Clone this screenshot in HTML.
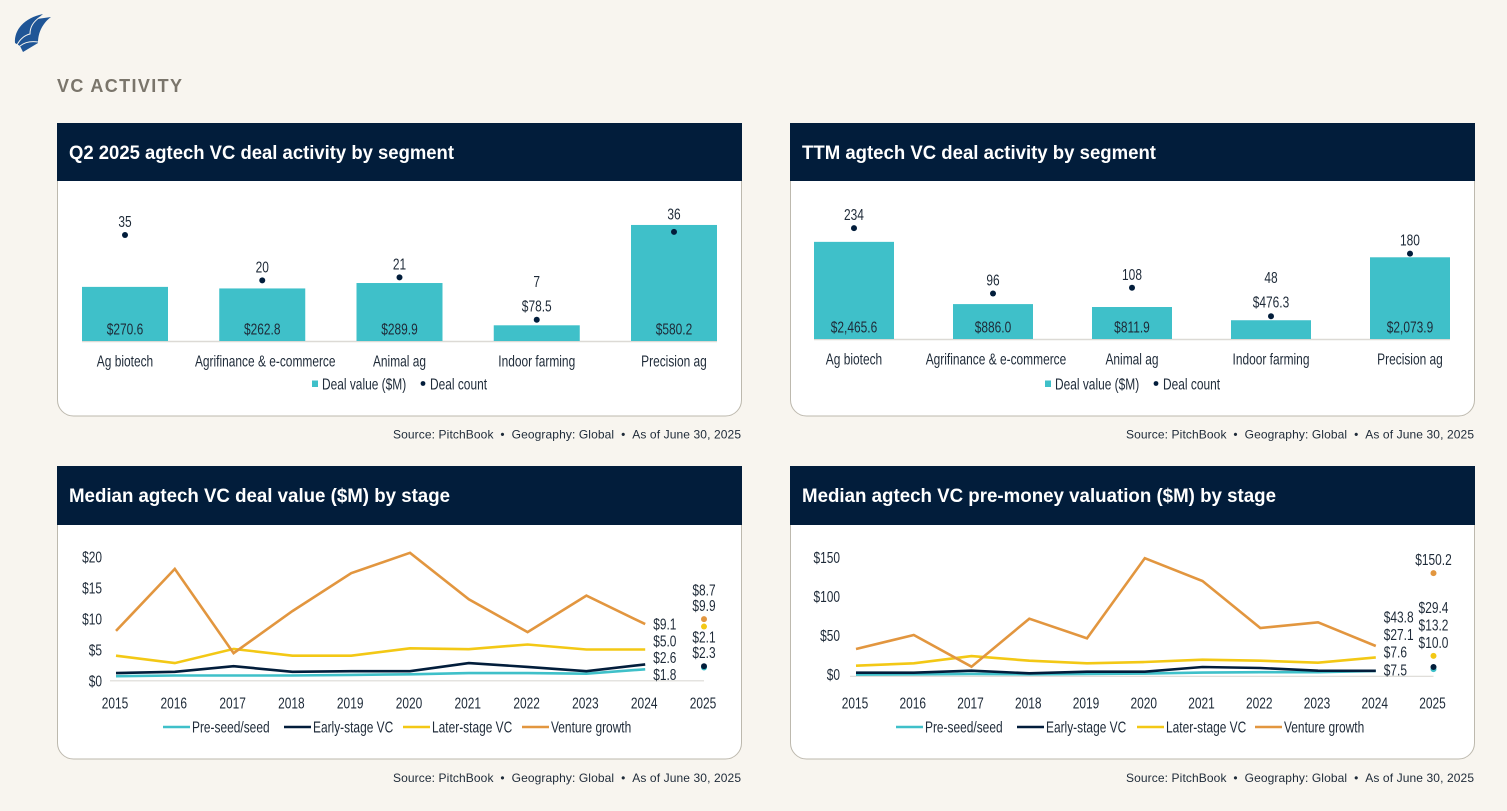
<!DOCTYPE html>
<html lang="en">
<head>
<meta charset="utf-8">
<title>VC Activity</title>
<style>
html,body{margin:0;padding:0;background:#f8f5ef;width:1507px;height:811px;overflow:hidden}
svg{display:block}
text{font-family:"Liberation Sans",sans-serif;font-size:15.5px;fill:#1e2a38}
.title{font-family:"Liberation Sans",sans-serif;font-weight:700;font-size:19px;fill:#fff}
.source{font-family:"Liberation Sans",sans-serif;font-size:12px;fill:#1e2a38}
.section{font-family:"Liberation Sans",sans-serif;font-weight:700;font-size:18px;fill:#7a756b}
</style>
</head>
<body>
<svg id="page" width="1507" height="811" viewBox="0 0 1507 811" xmlns="http://www.w3.org/2000/svg">
  <rect x="0" y="0" width="1507" height="811" fill="#f8f5ef"/>
  <g>
    <path fill="#1f5596" d="M15 43C14 30 24 18 43 14L37 19L51 17C43 23 38 32 38 43L23 52L20 46Z"/>
    <path fill="none" stroke="#f8f5ef" stroke-width="1" d="M40 17C33 22 30 27 30 34C25 35 20 39 17 45"/>
    <path fill="none" stroke="#f8f5ef" stroke-width="1" d="M20 46C25 42 31 41 38 42"/>
  </g>
  <text class="section" x="57" y="92" textLength="125" lengthAdjust="spacing">VC ACTIVITY</text>

  <g>
    <path d="M57.5 123.5H741.5V400a16 16 0 0 1-16 16H73.5a16 16 0 0 1-16-16Z" fill="#fff" stroke="#bdb9ae"/>
    <rect x="57" y="123" width="685" height="58" fill="#021d3b"/>
    <text class="title" x="69" y="159" textLength="385" lengthAdjust="spacingAndGlyphs">Q2 2025 agtech VC deal activity by segment</text>
    <text class="source" x="393" y="438.5" textLength="348" lengthAdjust="spacing">Source: PitchBook&#160;&#160;•&#160;&#160;Geography: Global&#160;&#160;•&#160;&#160;As of June 30, 2025</text>
  </g>
  <g>
    <path d="M790.5 123.5H1474.5V400a16 16 0 0 1-16 16H806.5a16 16 0 0 1-16-16Z" fill="#fff" stroke="#bdb9ae"/>
    <rect x="790" y="123" width="685" height="58" fill="#021d3b"/>
    <text class="title" x="802" y="159" textLength="354" lengthAdjust="spacingAndGlyphs">TTM agtech VC deal activity by segment</text>
    <text class="source" x="1126" y="438.5" textLength="348" lengthAdjust="spacing">Source: PitchBook&#160;&#160;•&#160;&#160;Geography: Global&#160;&#160;•&#160;&#160;As of June 30, 2025</text>
  </g>
  <g>
    <path d="M57.5 466.5H741.5V743a16 16 0 0 1-16 16H73.5a16 16 0 0 1-16-16Z" fill="#fff" stroke="#bdb9ae"/>
    <rect x="57" y="466" width="685" height="59" fill="#021d3b"/>
    <text class="title" x="69" y="502" textLength="381" lengthAdjust="spacingAndGlyphs">Median agtech VC deal value ($M) by stage</text>
    <text class="source" x="393" y="782" textLength="348" lengthAdjust="spacing">Source: PitchBook&#160;&#160;•&#160;&#160;Geography: Global&#160;&#160;•&#160;&#160;As of June 30, 2025</text>
  </g>
  <g>
    <path d="M790.5 466.5H1474.5V743a16 16 0 0 1-16 16H806.5a16 16 0 0 1-16-16Z" fill="#fff" stroke="#bdb9ae"/>
    <rect x="790" y="466" width="685" height="59" fill="#021d3b"/>
    <text class="title" x="802" y="502" textLength="474" lengthAdjust="spacingAndGlyphs">Median agtech VC pre-money valuation ($M) by stage</text>
    <text class="source" x="1126" y="782" textLength="348" lengthAdjust="spacing">Source: PitchBook&#160;&#160;•&#160;&#160;Geography: Global&#160;&#160;•&#160;&#160;As of June 30, 2025</text>
  </g>
</svg>
<script>
// ---- Bar chart data ----
const segmentCategories = ['Ag biotech', 'Agrifinance & e-commerce', 'Animal ag', 'Indoor farming', 'Precision ag'];
const q2DealValues = [270.6, 262.8, 289.9, 78.5, 580.2];
const q2DealCounts = [35, 20, 21, 7, 36];
const ttmDealValues = [2465.6, 886.0, 811.9, 476.3, 2073.9];
const ttmDealCounts = [234, 96, 108, 48, 180];

// ---- Line chart data ----
const years = [2015, 2016, 2017, 2018, 2019, 2020, 2021, 2022, 2023, 2024];
const pointYear = 2025;
const stageNames = ['Pre-seed/seed', 'Early-stage VC', 'Later-stage VC', 'Venture growth'];

const dealPreSeed = [0.7, 0.8, 0.8, 0.8, 0.9, 1.0, 1.2, 1.2, 1.1, 1.8];
const dealEarly = [1.2, 1.4, 2.3, 1.4, 1.5, 1.5, 2.8, 2.2, 1.5, 2.6];
const dealLater = [4.0, 2.8, 5.1, 4.0, 4.0, 5.2, 5.05, 5.8, 5.0, 5.0];
const dealGrowth = [8.0, 18.0, 4.4, 11.2, 17.3, 20.6, 13.1, 7.8, 13.7, 9.1];
const deal2025 = [2.1, 2.3, 8.7, 9.9];
const dealTicks = [0, 5, 10, 15, 20];
const dealLabelOrder = [1, 0, 3, 2];

const valPreSeed = [2.0, 2.5, 3.0, 2.5, 3.0, 3.5, 5.0, 5.5, 5.5, 7.5];
const valEarly = [4.8, 4.8, 7.8, 3.9, 6.3, 6.3, 13.1, 11.7, 7.8, 7.6];
const valLater = [15.0, 18.5, 29.0, 22.4, 18.5, 20.4, 23.8, 22.4, 19.4, 27.1];
const valGrowth = [39.4, 59.9, 13.6, 83.7, 55.0, 172.0, 138.7, 70.0, 78.4, 43.8];
const val2025 = [10.0, 13.2, 29.4, 150.2];
const valTicks = [0, 50, 100, 150];
const valLabelOrder = [0, 1, 2, 3];

const TEAL = '#3fc0c9', NAVY = '#021d3b', YELLOW = '#f3c815', ORANGE = '#e2963f', AXIS = '#dcdad5';
const NARROW = 0.77;
const stageColors = [TEAL, NAVY, YELLOW, ORANGE];
const svg = document.getElementById('page');

function mk(tag, attrs, parent) {
  const el = document.createElementNS('http://www.w3.org/2000/svg', tag);
  for (const k in attrs) el.setAttribute(k, attrs[k]);
  parent.appendChild(el);
  return el;
}
function txt(str, x, yCenter, anchor, parent) {
  const el = mk('text', { x: x, y: yCenter + 5.5, 'text-anchor': anchor,
    transform: 'matrix(' + NARROW + ' 0 0 1 ' + (x * (1 - NARROW)).toFixed(2) + ' 0)' }, parent);
  el.textContent = str;
  return el;
}
function money(v) {
  return '$' + v.toLocaleString('en-US', { minimumFractionDigits: 1, maximumFractionDigits: 1 });
}

function drawBarChart(o) {
  const g = mk('g', {}, svg);
  
  
  const n = o.categories.length;
  const xCenter = i => o.x0 + o.step * i;
  const barH = v => v * o.valueScale;
  const countY = c => o.base - c * o.countScale;

  const axis = mk('line', { x1: o.x0 - o.barW / 2, x2: xCenter(n - 1) + o.barW / 2, y1: o.base + 0.5, y2: o.base + 0.5, stroke: AXIS, 'stroke-width': 1.5 }, g);
  
  

  for (let i = 0; i < n; i++) {
    const h = barH(o.values[i]);
    const bar = mk('rect', { x: xCenter(i) - o.barW / 2, y: o.base - h, width: o.barW, height: h, fill: TEAL }, g);
    
    

    const dy = countY(o.counts[i]);
    const dot = mk('circle', { cx: xCenter(i), cy: dy, r: 3, fill: NAVY }, g);
    
    

    const small = h < 25;
    const valueY = small ? dy - 14 : o.base - 12;
    const val = txt(money(o.values[i]), xCenter(i), valueY, 'middle', g);
    
    

    const countLabelY = small ? valueY - 24.5 : Math.min(dy - 13.5, o.base - h - 11);
    const count = txt(String(o.counts[i]), xCenter(i), countLabelY, 'middle', g);
    
    

    const labelShift = o.categories[i].length > 20 ? 3 : 0;
    const cat = txt(o.categories[i], xCenter(i) + labelShift, o.base + 20, 'middle', g);
    
    
  }

  const sq = mk('rect', { x: o.legendX - 3, y: 380.5, width: 6, height: 6.5, fill: TEAL }, g);
  
  
  const l1 = txt('Deal value ($M)', o.legendX + 7, 384, 'start', g);
  
  
  const ld = mk('circle', { cx: o.legendX + 108, cy: 383.5, r: 2.4, fill: NAVY }, g);
  
  
  const l2 = txt('Deal count', o.legendX + 115, 384, 'start', g);
  
  
}

function drawLineChart(o) {
  const g = mk('g', {}, svg);
  
  
  const xAt = i => o.x0 + o.step * i;
  const y = v => o.base - v * o.scale;
  const tickY = v => o.tickBase - v * o.tickScale;
  const x2025 = xAt(years.length);

  const axis = mk('line', { x1: o.x0 - 6, x2: x2025, y1: o.base + 0.3, y2: o.base + 0.3, stroke: AXIS, 'stroke-width': 1.2 }, g);
  
  

  o.ticks.forEach(function (t) {
    const lab = txt('$' + t, o.tickRight, tickY(t), 'end', g);
    
    
  });

  years.concat([pointYear]).forEach(function (yr, i) {
    const lab = txt(String(yr), xAt(i) - 1, 703, 'middle', g);
    
    
  });

  o.series.forEach(function (vals, s) {
    const pts = vals.map((v, i) => xAt(i).toFixed(1) + ',' + y(v).toFixed(1)).join(' ');
    const line = mk('polyline', { points: pts, fill: 'none', stroke: stageColors[s], 'stroke-width': 2.6, 'stroke-linejoin': 'miter' }, g);
    
    
  });

  // 2024 end labels: stacked upward from the lowest series
  const lastVals = o.series.map(v => v[v.length - 1]).slice().sort((a, b) => a - b);
  let prev = Infinity;
  lastVals.forEach(function (v, idx) {
    const ly = idx === 0 ? y(v) + o.endOffset : Math.min(y(v), prev - o.endGap);
    prev = ly;
    const lab = txt(money(v), xAt(years.length - 1) + 8, ly, 'start', g);
    
    
  });

  // 2025 points
  o.points.forEach(function (v, s) {
    const dot = mk('circle', { cx: x2025, cy: y(v), r: 3, fill: stageColors[s] }, g);
    
    
  });
  let prevP = Infinity;
  o.labelOrder.forEach(function (s) {
    const own = y(o.points[s]);
    let anchor = own;
    o.points.forEach(function (v) { if (Math.abs(y(v) - own) < 20) anchor = Math.min(anchor, y(v)); });
    const ly = Math.min(anchor - 13.5, prevP - o.pointGap);
    prevP = ly;
    const lab = txt(money(o.points[s]), x2025, ly, 'middle', g);
    
    
  });

  // legend
  stageNames.forEach(function (name, s) {
    const lx = o.legendX + o.legendOffsets[s];
    const sw = mk('line', { x1: lx, x2: lx + 27, y1: 727, y2: 727, stroke: stageColors[s], 'stroke-width': 2.6 }, g);
    
    
    const lab = txt(name, lx + 29, 727, 'start', g);
    
    
  });
}

drawBarChart({ name: 'q2-segment-chart', categories: segmentCategories, values: q2DealValues, counts: q2DealCounts,
  x0: 125, step: 137.25, barW: 86, base: 341, valueScale: 0.2, countScale: 3.03, legendX: 315 });
drawBarChart({ name: 'ttm-segment-chart', categories: segmentCategories, values: ttmDealValues, counts: ttmDealCounts,
  x0: 854, step: 139, barW: 80, base: 339, valueScale: 0.0394, countScale: 0.474, legendX: 1048 });
drawLineChart({ name: 'deal-value-chart', series: [dealPreSeed, dealEarly, dealLater, dealGrowth], points: deal2025, ticks: dealTicks,
  labelOrder: dealLabelOrder, x0: 116, step: 58.8, base: 680.5, scale: 6.2, tickBase: 681, tickScale: 6.2, tickRight: 102,
  endOffset: 5, endGap: 16.7, pointGap: 15.5, legendX: 163, legendOffsets: [0, 121, 240, 359] });
drawLineChart({ name: 'valuation-chart', series: [valPreSeed, valEarly, valLater, valGrowth], points: val2025, ticks: valTicks,
  labelOrder: valLabelOrder, x0: 856, step: 57.75, base: 676, scale: 0.685, tickBase: 674.5, tickScale: 0.78, tickRight: 840,
  endOffset: -1, endGap: 17.7, pointGap: 17.5, legendX: 896, legendOffsets: [0, 121, 241, 359] });
</script>
</body>
</html>
